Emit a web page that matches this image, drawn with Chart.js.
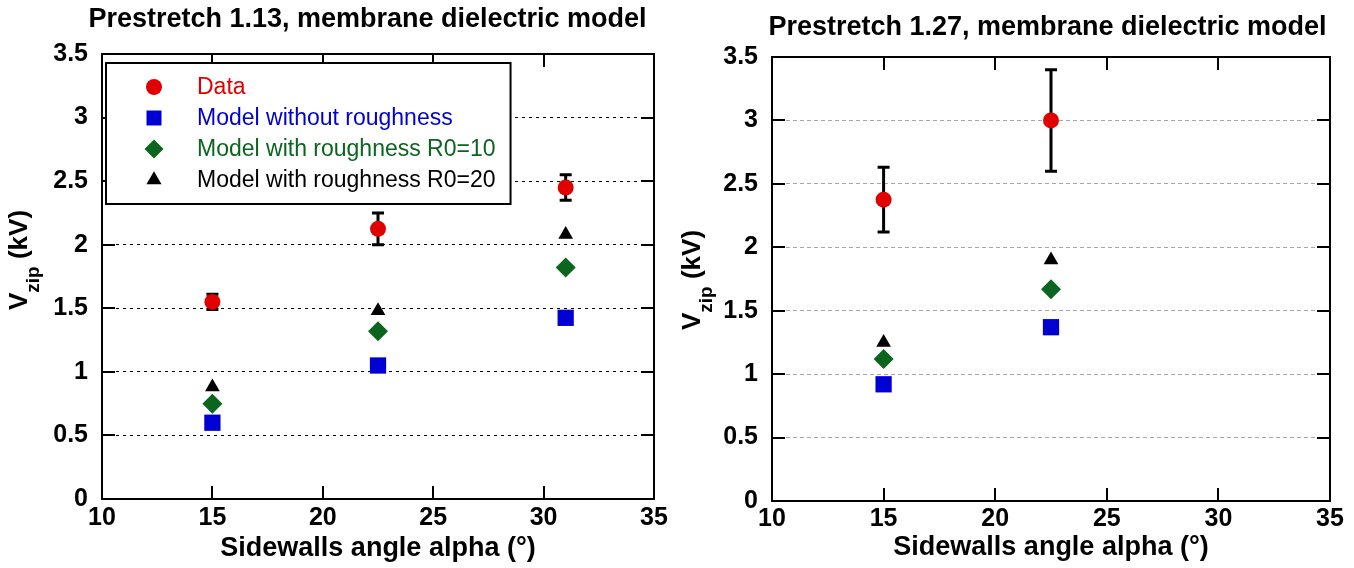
<!DOCTYPE html>
<html><head><meta charset="utf-8">
<script src="https://cdn.jsdelivr.net/npm/chart.js@4/dist/chart.umd.min.js"></script>
<style>
html,body{margin:0;padding:0;background:#fff;overflow:hidden;width:1354px;height:568px;}
#wrap{position:relative;width:1354px;height:568px;overflow:hidden;background:#fff;}
canvas{position:absolute;top:0;}
#cL{left:0px;}
#cR{left:677px;}
</style></head><body>
<div id="wrap">
<canvas id="cL" width="735" height="568"></canvas>
<canvas id="cR" width="741" height="568"></canvas>
</div>
<script>
// ---------------- data ----------------
const titleLeft = 'Prestretch 1.13, membrane dielectric model';
const titleRight = 'Prestretch 1.27, membrane dielectric model';
const xAxisTitle = 'Sidewalls angle alpha (°)';
const yTitleMain = 'V';
const yTitleSub = 'zip';
const yTitleUnit = ' (kV)';
const seriesNames = ['Data', 'Model without roughness', 'Model with roughness R0=10', 'Model with roughness R0=20'];
const xTickValues = [10, 15, 20, 25, 30, 35];
const yTickValues = [0, 0.5, 1, 1.5, 2, 2.5, 3, 3.5];

const anglesLeft = [15, 22.5, 31];
const dataLeft = [1.55, 2.125, 2.45];
const dataErrLeft = [0.06, 0.125, 0.10];
const noRoughLeft = [0.60, 1.05, 1.425];
const rough10Left = [0.75, 1.32, 1.82];
const rough20Left = [0.88, 1.48, 2.08];

const anglesRight = [15, 22.5];
const dataRight = [2.375, 3.0];
const dataErrRight = [0.255, 0.40];
const noRoughRight = [0.92, 1.37];
const rough10Right = [1.12, 1.67];
const rough20Right = [1.25, 1.90];

// ---------------- styling ----------------
const FAM = '"Liberation Sans", Arial, Helvetica, sans-serif';
const RED = '#e00000', BLUE = '#0000d2', GREEN = '#0a651f', BLACK = '#000000';
Chart.defaults.font.family = FAM;
Chart.defaults.color = '#000';

function makeDatasets(xs, d, e, n, r10, r20) {
  const pts = ys => xs.map((x, i) => ({x: x, y: ys[i]}));
  return [
    {label: seriesNames[0], data: pts(d), errorBars: e, pointStyle: 'circle', pointRadius: 8, legendRadius: 8,
     backgroundColor: RED, borderColor: RED, pointBorderWidth: 0, textColor: RED},
    {label: seriesNames[1], data: pts(n), pointStyle: 'rect', pointRadius: 11.5, legendRadius: 10.6,
     backgroundColor: BLUE, borderColor: BLUE, pointBorderWidth: 0, textColor: BLUE},
    {label: seriesNames[2], data: pts(r10), pointStyle: 'rectRot', pointRadius: 10, legendRadius: 9.5,
     backgroundColor: GREEN, borderColor: GREEN, pointBorderWidth: 0, textColor: GREEN},
    {label: seriesNames[3], data: pts(r20), pointStyle: 'triangle', pointRadius: 8.5, legendRadius: 8.7,
     backgroundColor: BLACK, borderColor: BLACK, pointBorderWidth: 0, textColor: BLACK}
  ].map(ds => Object.assign(ds, {showLine: false, pointHoverRadius: ds.pointRadius, borderWidth: 0}));
}

// frame: border box + inward tick marks on all four sides
const framePlugin = {
  id: 'frame',
  beforeDatasetsDraw(chart, args, o) {
    const {ctx, chartArea: a} = chart;
    const x = chart.scales.x, y = chart.scales.y;
    ctx.save();
    ctx.setLineDash([]);
    ctx.strokeStyle = '#000';
    ctx.lineWidth = o.tickWidth;
    ctx.beginPath();
    x.ticks.forEach(t => {
      if (t.value <= x.min || t.value >= x.max) return;
      const px = Math.round(x.getPixelForValue(t.value));
      ctx.moveTo(px, a.bottom); ctx.lineTo(px, a.bottom - o.tickLen);
      ctx.moveTo(px, a.top); ctx.lineTo(px, a.top + o.tickLen);
    });
    y.ticks.forEach(t => {
      if (t.value <= y.min || t.value >= y.max) return;
      const py = Math.round(y.getPixelForValue(t.value));
      ctx.moveTo(a.left, py); ctx.lineTo(a.left + o.tickLen, py);
      ctx.moveTo(a.right, py); ctx.lineTo(a.right - o.tickLen, py);
    });
    ctx.stroke();
    ctx.lineWidth = o.borderWidth;
    ctx.strokeRect(a.left, a.top, a.right - a.left, a.bottom - a.top);
    ctx.restore();
  }
};

// vertical error bars with caps, drawn through the scales
const errorBarPlugin = {
  id: 'errorBars',
  beforeDatasetsDraw(chart, args, o) {
    const {ctx} = chart;
    const x = chart.scales.x, y = chart.scales.y;
    ctx.save();
    ctx.setLineDash([]);
    ctx.strokeStyle = '#000';
    ctx.lineWidth = o.lineWidth;
    chart.data.datasets.forEach(ds => {
      if (!ds.errorBars) return;
      ds.data.forEach((p, i) => {
        const err = ds.errorBars[i];
        const px = x.getPixelForValue(p.x);
        const yTop = y.getPixelForValue(p.y + err);
        const yBot = y.getPixelForValue(p.y - err);
        ctx.beginPath();
        ctx.moveTo(px, yTop); ctx.lineTo(px, yBot);
        ctx.moveTo(px - o.cap, yTop); ctx.lineTo(px + o.cap, yTop);
        ctx.moveTo(px - o.cap, yBot); ctx.lineTo(px + o.cap, yBot);
        ctx.stroke();
      });
    });
    ctx.restore();
  }
};

// y axis title with subscript
const yTitlePlugin = {
  id: 'yTitle',
  afterDraw(chart, args, o) {
    const a = chart.chartArea, ctx = chart.ctx;
    const fMain = 'bold ' + o.size + 'px ' + FAM;
    const fSub = 'bold ' + o.subSize + 'px ' + FAM;
    ctx.save();
    ctx.font = fMain;
    const w1 = ctx.measureText(yTitleMain).width;
    const w3 = ctx.measureText(yTitleUnit).width;
    ctx.font = fSub;
    const w2 = ctx.measureText(yTitleSub).width;
    const total = w1 + w2 + w3;
    ctx.translate(a.left + o.dx, (a.top + a.bottom) / 2 + o.dy);
    ctx.rotate(-Math.PI / 2);
    ctx.fillStyle = '#000';
    ctx.textBaseline = 'alphabetic';
    ctx.textAlign = 'left';
    let u = -total / 2;
    ctx.font = fMain; ctx.fillText(yTitleMain, u, 0); u += w1;
    ctx.font = fSub; ctx.fillText(yTitleSub, u, o.subShift); u += w2;
    ctx.font = fMain; ctx.fillText(yTitleUnit, u, 0);
    ctx.restore();
  }
};

function drawMarker(ctx, style, r, cx, cy) {
  if (Chart.helpers && Chart.helpers.drawPoint) {
    Chart.helpers.drawPoint(ctx, {pointStyle: style, radius: r, rotation: 0, borderWidth: 0}, cx, cy);
    return;
  }
  ctx.beginPath();
  if (style === 'circle') ctx.arc(cx, cy, r, 0, Math.PI * 2);
  else if (style === 'rect') { const s = r * Math.SQRT1_2; ctx.rect(cx - s, cy - s, 2 * s, 2 * s); }
  else if (style === 'rectRot') { ctx.moveTo(cx - r, cy); ctx.lineTo(cx, cy - r); ctx.lineTo(cx + r, cy); ctx.lineTo(cx, cy + r); ctx.closePath(); }
  else { ctx.moveTo(cx, cy - r); ctx.lineTo(cx + 0.866 * r, cy + 0.5 * r); ctx.lineTo(cx - 0.866 * r, cy + 0.5 * r); ctx.closePath(); }
  ctx.fill();
}

// boxed legend inside the plot area
const boxLegendPlugin = {
  id: 'boxLegend',
  afterDraw(chart, args, o) {
    if (!o.display) return;
    const a = chart.chartArea, ctx = chart.ctx;
    const dss = chart.data.datasets;
    ctx.save();
    ctx.font = o.size + 'px ' + FAM;
    let maxW = 0;
    dss.forEach(ds => { maxW = Math.max(maxW, ctx.measureText(ds.label).width); });
    const left = a.left + o.offsetX, top = a.top + o.offsetY;
    const w = o.textX + maxW + o.padRight;
    const h = o.rowStart * 2 + o.rowGap * (dss.length - 1);
    ctx.fillStyle = '#fff';
    ctx.fillRect(left, top, w, h);
    ctx.setLineDash([]);
    ctx.lineWidth = o.borderWidth;
    ctx.strokeStyle = '#000';
    ctx.strokeRect(left, top, w, h);
    ctx.textBaseline = 'middle';
    ctx.textAlign = 'left';
    dss.forEach((ds, i) => {
      const cy = top + o.rowStart + i * o.rowGap;
      ctx.fillStyle = ds.backgroundColor;
      drawMarker(ctx, ds.pointStyle, ds.legendRadius, left + o.markerX, cy);
      ctx.fillStyle = ds.textColor;
      ctx.font = o.size + 'px ' + FAM;
      ctx.fillText(ds.label, left + o.textX, cy + 1);
    });
    ctx.restore();
  }
};

function makeConfig(cfg) {
  return {
    type: 'scatter',
    data: {datasets: makeDatasets(cfg.xs, cfg.d, cfg.e, cfg.n, cfg.r10, cfg.r20)},
    plugins: [framePlugin, errorBarPlugin, yTitlePlugin, boxLegendPlugin],
    options: {
      responsive: false,
      animation: false,
      devicePixelRatio: 1,
      layout: {padding: 0},
      scales: {
        x: {
          type: 'linear', min: 10, max: 35,
          afterBuildTicks: s => { s.ticks = xTickValues.map(v => ({value: v})); },
          ticks: {callback: v => String(v), color: '#000', font: {size: 25, weight: 'bold'}, padding: cfg.xTickPad,
                  maxRotation: 0, autoSkip: false},
          grid: {display: false, drawTicks: false},
          border: {display: false},
          title: {display: true, text: xAxisTitle, color: '#000', font: {size: 27, weight: 'bold'},
                  padding: {top: 0, bottom: cfg.xTitlePad}},
          afterFit: s => { s.height = cfg.xHeight; }
        },
        y: {
          type: 'linear', min: 0, max: 3.5,
          afterBuildTicks: s => { s.ticks = yTickValues.map(v => ({value: v})); },
          ticks: {callback: v => String(v), color: '#000', font: {size: 25, weight: 'bold'}, padding: 14, autoSkip: false},
          grid: {color: cfg.gridColor, lineWidth: 1, drawTicks: false},
          border: {display: false, dash: cfg.gridDash},
          afterFit: s => { s.width = cfg.yWidth; }
        },
        yR: {
          type: 'linear', position: 'right', display: true,
          ticks: {display: false},
          grid: {display: false, drawTicks: false},
          border: {display: false},
          afterFit: s => { s.width = cfg.rightWidth; }
        }
      },
      plugins: {
        legend: {display: false},
        tooltip: {enabled: false},
        title: {display: true, text: cfg.title, color: '#000', font: {size: 27, weight: 'bold'},
                padding: {top: cfg.titleTop, bottom: cfg.titleBottom}},
        frame: {tickLen: 13, tickWidth: 2, borderWidth: 2},
        errorBars: {lineWidth: 3, cap: 6},
        yTitle: {size: 26, subSize: 19, subShift: 12, dx: cfg.yTitleDx, dy: cfg.yTitleDy},
        boxLegend: {display: cfg.legend, size: 23, offsetX: 4, offsetY: 9, rowStart: 24, rowGap: 31,
                    markerX: 48, textX: 91, padRight: 15, borderWidth: 2}
      }
    }
  };
}

new Chart(document.getElementById('cL'), makeConfig({
  xs: anglesLeft, d: dataLeft, e: dataErrLeft, n: noRoughLeft, r10: rough10Left, r20: rough20Left,
  title: titleLeft, titleTop: 3, titleBottom: 18.6,
  yWidth: 102, rightWidth: 81, xHeight: 69, xTickPad: 4, xTitlePad: 3,
  gridColor: '#000', gridDash: [3, 4],
  yTitleDx: -75, yTitleDy: -16.5, legend: true
}));

new Chart(document.getElementById('cR'), makeConfig({
  xs: anglesRight, d: dataRight, e: dataErrRight, n: noRoughRight, r10: rough10Right, r20: rough20Right,
  title: titleRight, titleTop: 11.8, titleBottom: 12.8,
  yWidth: 95, rightWidth: 88, xHeight: 67, xTickPad: 3, xTitlePad: 4,
  gridColor: '#a8a8a8', gridDash: [4, 3],
  yTitleDx: -72, yTitleDy: 1, legend: false
}));
</script>
</body></html>
